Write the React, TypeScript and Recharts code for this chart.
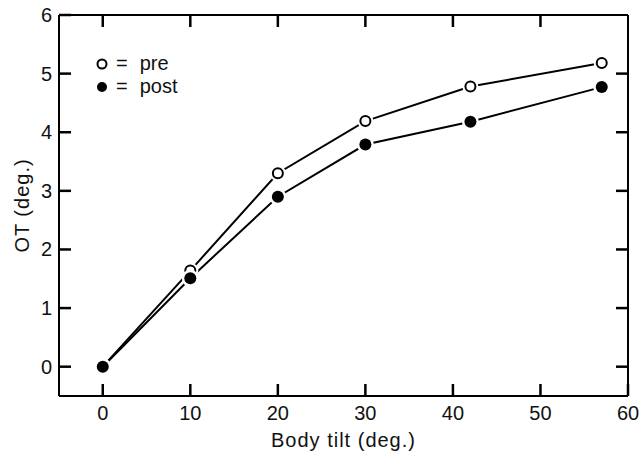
import React from "react";
import { ComposedChart, Line, XAxis, YAxis } from "recharts";

const tilt = [0, 10, 20, 30, 42, 57];
const preOT = [0, 1.64, 3.3, 4.19, 4.78, 5.18];
const postOT = [0, 1.51, 2.9, 3.79, 4.18, 4.77];
const xTicks = [0, 10, 20, 30, 40, 50, 60];
const yTicks = [0, 1, 2, 3, 4, 5, 6];

const preData = tilt.map((x, i) => ({ x, y: preOT[i] }));
const postData = tilt.map((x, i) => ({ x, y: postOT[i] }));

const FONT = "'Liberation Sans', Arial, sans-serif";
const INK = "#111";
const TICK = 12;
const TICK_W = 2.5;
const frame = { stroke: "#000", strokeWidth: 2 };

// ticks point into the plot on all four sides
function BottomTick({ x, y, payload }: any) {
  return (
    <g>
      <line x1={x} y1={y} x2={x} y2={y - TICK} stroke="#000" strokeWidth={TICK_W} />
      <text x={x} y={y + 24} textAnchor="middle" fontSize={20} fontFamily={FONT} fill={INK}>
        {payload.value}
      </text>
    </g>
  );
}

function LeftTick({ x, y, payload }: any) {
  return (
    <g>
      <line x1={x} y1={y} x2={x + TICK} y2={y} stroke="#000" strokeWidth={TICK_W} />
      <text x={x - 7} y={y + 7} textAnchor="end" fontSize={20} fontFamily={FONT} fill={INK}>
        {payload.value}
      </text>
    </g>
  );
}

function TopTick({ x, y, payload }: any) {
  if (payload.value === 60) return null;
  return <line x1={x} y1={y} x2={x} y2={y + TICK} stroke="#000" strokeWidth={TICK_W} />;
}

function RightTick({ x, y, payload }: any) {
  if (payload.value === 6) return null;
  return <line x1={x} y1={y} x2={x - TICK} y2={y} stroke="#000" strokeWidth={TICK_W} />;
}

// white halo so the line stops short of each marker
function OpenDot({ cx, cy }: any) {
  return (
    <g>
      <circle cx={cx} cy={cy} r={8} fill="#fff" />
      <circle cx={cx} cy={cy} r={5} fill="#fff" stroke="#000" strokeWidth={2} />
    </g>
  );
}

function FilledDot({ cx, cy }: any) {
  return (
    <g>
      <circle cx={cx} cy={cy} r={8.5} fill="#fff" />
      <circle cx={cx} cy={cy} r={6} fill="#000" />
    </g>
  );
}

function Key() {
  const row = { display: "flex", alignItems: "center", height: 23 };
  return (
    <div style={{ position: "absolute", left: 95, top: 52, fontFamily: FONT, fontSize: 20, color: INK }}>
      <div style={row}>
        <svg width={14} height={14}>
          <circle cx={7} cy={7} r={4.5} fill="#fff" stroke="#000" strokeWidth={2} />
        </svg>
        <span style={{ marginLeft: 7 }}>=</span>
        <span style={{ marginLeft: 12 }}>pre</span>
      </div>
      <div style={row}>
        <svg width={14} height={14}>
          <circle cx={7} cy={7} r={5} fill="#000" />
        </svg>
        <span style={{ marginLeft: 7 }}>=</span>
        <span style={{ marginLeft: 12 }}>post</span>
      </div>
    </div>
  );
}

export default function App() {
  return (
    <div style={{ position: "absolute", left: 0, top: 0, width: 644, height: 454, background: "#fff" }}>
      <ComposedChart width={644} height={454} margin={{ top: 14, right: 0, bottom: 0, left: 0 }}>
        <XAxis
          xAxisId="bottom"
          dataKey="x"
          type="number"
          domain={[-5, 60]}
          ticks={xTicks}
          allowDataOverflow
          tickSize={0}
          tickMargin={0}
          tickLine={false}
          tick={BottomTick}
          axisLine={frame}
          height={58}
          label={{
            value: "Body tilt (deg.)",
            position: "insideBottom",
            offset: 7,
            fontSize: 20,
            fontFamily: FONT,
            fill: INK,
            letterSpacing: 1,
          }}
        />
        <XAxis
          xAxisId="top"
          orientation="top"
          dataKey="x"
          type="number"
          domain={[-5, 60]}
          ticks={xTicks}
          allowDataOverflow
          tickSize={0}
          tickMargin={0}
          tickLine={false}
          tick={TopTick}
          axisLine={frame}
          height={1}
        />
        <YAxis
          yAxisId="left"
          type="number"
          domain={[-0.5, 6]}
          ticks={yTicks}
          allowDataOverflow
          tickSize={0}
          tickMargin={0}
          tickLine={false}
          tick={LeftTick}
          axisLine={frame}
          width={59}
          label={{
            value: "OT (deg.)",
            angle: -90,
            position: "insideLeft",
            offset: 22,
            fontSize: 20,
            fontFamily: FONT,
            fill: INK,
            letterSpacing: 1,
            style: { textAnchor: "middle" },
          }}
        />
        <YAxis
          yAxisId="right"
          orientation="right"
          type="number"
          domain={[-0.5, 6]}
          ticks={yTicks}
          allowDataOverflow
          tickSize={0}
          tickMargin={0}
          tickLine={false}
          tick={RightTick}
          axisLine={frame}
          width={16}
        />
        <Line
          xAxisId="bottom"
          yAxisId="left"
          data={preData}
          dataKey="y"
          stroke="#000"
          strokeWidth={2}
          dot={<OpenDot />}
          activeDot={false}
          isAnimationActive={false}
        />
        <Line
          xAxisId="bottom"
          yAxisId="left"
          data={postData}
          dataKey="y"
          stroke="#000"
          strokeWidth={2}
          dot={<FilledDot />}
          activeDot={false}
          isAnimationActive={false}
        />
      </ComposedChart>
      <Key />
    </div>
  );
}
